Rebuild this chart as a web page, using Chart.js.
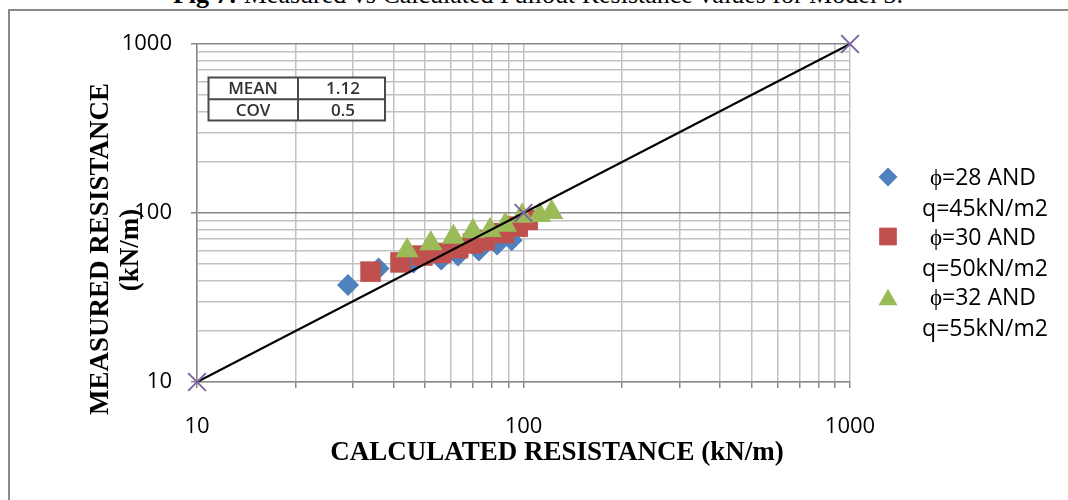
<!DOCTYPE html>
<html><head><meta charset="utf-8">
<script src="https://cdn.jsdelivr.net/npm/chart.js@4.4.1/dist/chart.umd.min.js"></script>
<style>
html,body{margin:0;padding:0;background:#fff;overflow:hidden;}
#wrap{position:relative;width:1068px;height:500px;overflow:hidden;background:#fff;}
#frame{position:absolute;left:8px;top:9px;width:1200px;height:600px;border:2px solid #8a8a8a;box-sizing:border-box;}
#title{position:absolute;left:0;top:-18px;width:1076px;text-align:center;font:26px/26px "Liberation Serif","Times New Roman",serif;white-space:nowrap;color:#000;}
canvas{position:absolute;left:0;top:0;}
</style></head>
<body><div id="wrap"><div id="frame"></div><div id="title"><b>Fig 7:</b> Measured vs Calculated Pullout Resistance values for Model 3.</div><canvas id="c" width="1068" height="500"></canvas></div>
<script>
// ---- data ----
const blueX = [29, 36, 46, 56, 63, 73, 83, 92];
const blueY = [37.5, 47, 51, 53, 56, 60, 65, 69];
const redX = [34, 42, 49, 56, 63, 70, 76, 87, 96, 103];
const redY = [45, 51, 56, 58, 62, 66, 69, 76, 83, 91];
const greenX = [44, 52, 61, 70, 79, 88, 99, 112, 122];
const greenY = [60, 66, 72, 78, 79, 85, 96, 97, 101];
const lineX = [10, 100, 1000];
const lineY = [10, 100, 1000];
const seriesNames = [["\u03D5=28 AND", "q=45kN/m2"], ["\u03D5=30 AND", "q=50kN/m2"], ["\u03D5=32 AND", "q=55kN/m2"]];
const gridTicks = [10, 20, 30, 40, 50, 60, 70, 80, 90, 100, 200, 300, 400, 500, 600, 700, 800, 900, 1000];
const tickLabels = [10, 100, 1000];
const statNames = ["MEAN", "COV"];
const statValues = ["1.12", "0.5"];
const xTitle = "CALCULATED RESISTANCE (kN/m)";
const yTitle = ["MEASURED RESISTANCE", "(kN/m)"];

const pts = (xs, ys) => xs.map((x, i) => ({x: x, y: ys[i]}));
const GRID = '#c2c2c2', DARK = '#888888';
const colors = ['#4F81BD', '#C0504D', '#9BBB59'];
const legendRadius = [9.5, 12.5, 11];

function marker(ctx, style, r, x, y, color) {
  ctx.save();
  ctx.fillStyle = color; ctx.strokeStyle = color;
  if (Chart.helpers && Chart.helpers.drawPoint) {
    Chart.helpers.drawPoint(ctx, {pointStyle: style, radius: r, rotation: 0, borderWidth: 0}, x, y);
  }
  ctx.restore();
}

const extras = {
  id: 'extras',
  afterDraw(chart) {
    const ctx = chart.ctx;
    ctx.save();
    // stats table
    ctx.fillStyle = '#fff';
    ctx.fillRect(208, 77, 177, 43);
    ctx.strokeStyle = '#4a4a4a'; ctx.lineWidth = 2;
    ctx.strokeRect(208.5, 77.5, 176.5, 43);
    ctx.beginPath();
    ctx.moveTo(298, 77.5); ctx.lineTo(298, 120.5);
    ctx.moveTo(208.5, 99.25); ctx.lineTo(385, 99.25);
    ctx.stroke();
    ctx.fillStyle = '#333'; ctx.font = '600 17px "Open Sans"';
    ctx.textAlign = 'center'; ctx.textBaseline = 'middle';
    statNames.forEach((n, i) => {
      const y = 89.5 + i * 22;
      ctx.fillText(n, 253, y);
      ctx.fillText(statValues[i], 343, y);
    });
    // legend
    const ds = chart.data.datasets;
    const ly = [177, 236.5, 297];
    for (let i = 0; i < 3; i++) {
      const st = ds[i].pointStyle;
      const r = legendRadius[i];
      marker(ctx, st, r, 888, ly[i] + (st === 'triangle' ? r / 4 : 0), colors[i]);
      ctx.fillStyle = '#000'; ctx.font = '23px "Open Sans"';
      ctx.textAlign = 'center'; ctx.textBaseline = 'alphabetic';
      ctx.fillText(seriesNames[i][0], 983, ly[i] + 8);
      ctx.fillText(seriesNames[i][1], 985, ly[i] + 39);
    }
    // axis titles
    ctx.fillStyle = '#000';
    ctx.font = 'bold 27px "Liberation Serif"';
    ctx.textAlign = 'center'; ctx.textBaseline = 'alphabetic';
    ctx.fillText(xTitle, 557, 460);
    ctx.save(); ctx.translate(108, 249); ctx.rotate(-Math.PI / 2); ctx.fillText(yTitle[0], 0, 0); ctx.restore();
    ctx.save(); ctx.translate(138, 250); ctx.rotate(-Math.PI / 2); ctx.fillText(yTitle[1], 0, 0); ctx.restore();
    ctx.restore();
  }
};

const tickFont = {family: '"Open Sans"', size: 22};
new Chart(document.getElementById('c'), {
  type: 'scatter',
  data: {
    datasets: [
      {label: seriesNames[0].join(' '), data: pts(blueX, blueY), pointStyle: 'rectRot', pointRadius: 11, pointHoverRadius: 11,
       backgroundColor: colors[0], borderColor: colors[0], borderWidth: 0, order: 4},
      {label: seriesNames[1].join(' '), data: pts(redX, redY), pointStyle: 'rect', pointRadius: 14.5, pointHoverRadius: 14.5,
       backgroundColor: colors[1], borderColor: colors[1], borderWidth: 0, order: 3},
      {label: seriesNames[2].join(' '), data: pts(greenX, greenY), pointStyle: 'triangle', pointRadius: 13.5, pointHoverRadius: 13.5,
       backgroundColor: colors[2], borderColor: colors[2], borderWidth: 0, order: 2},
      {label: '1:1', data: pts(lineX, lineY), showLine: true, borderColor: '#000', borderWidth: 2,
       pointStyle: 'crossRot', pointRadius: 12.5, pointHoverRadius: 12.5, pointBorderColor: '#8064A2', pointBackgroundColor: '#8064A2',
       pointBorderWidth: 2, clip: false, order: 1}
    ]
  },
  options: {
    responsive: false, animation: false, devicePixelRatio: 1, events: [],
    layout: {padding: {left: 0, top: 44, right: 218, bottom: 0}},
    plugins: {legend: {display: false}, tooltip: {enabled: false}, title: {display: false}},
    scales: {
      x: {
        type: 'logarithmic', min: 10, max: 1000, position: 'bottom',
        afterBuildTicks: s => { s.ticks = gridTicks.map(v => ({value: v})); },
        afterFit: s => { s.height = 118; },
        ticks: {autoSkip: false, maxRotation: 0, minRotation: 0, padding: 26, color: '#000', font: tickFont,
                callback: v => tickLabels.includes(v) ? String(v) : ''},
        grid: {color: GRID, lineWidth: 1.5, tickLength: 6, tickColor: DARK, drawTicks: true},
        border: {color: DARK, width: 1.5}
      },
      y: {
        type: 'logarithmic', min: 10, max: 1000, position: 'left',
        afterBuildTicks: s => { s.ticks = gridTicks.map(v => ({value: v})); },
        afterFit: s => { s.width = 197; },
        ticks: {autoSkip: false, padding: 19, color: '#000', font: tickFont,
                callback: v => tickLabels.includes(v) ? String(v) : ''},
        grid: {
          color: c => (c.tick && (c.tick.value === 100 || c.tick.value === 1000)) ? DARK : GRID,
          lineWidth: 1.5, tickLength: 6,
          tickColor: c => (c.tick && tickLabels.includes(c.tick.value)) ? DARK : 'rgba(0,0,0,0)'
        },
        border: {color: DARK, width: 1.5}
      }
    }
  },
  plugins: [extras]
});
</script>
</body></html>
